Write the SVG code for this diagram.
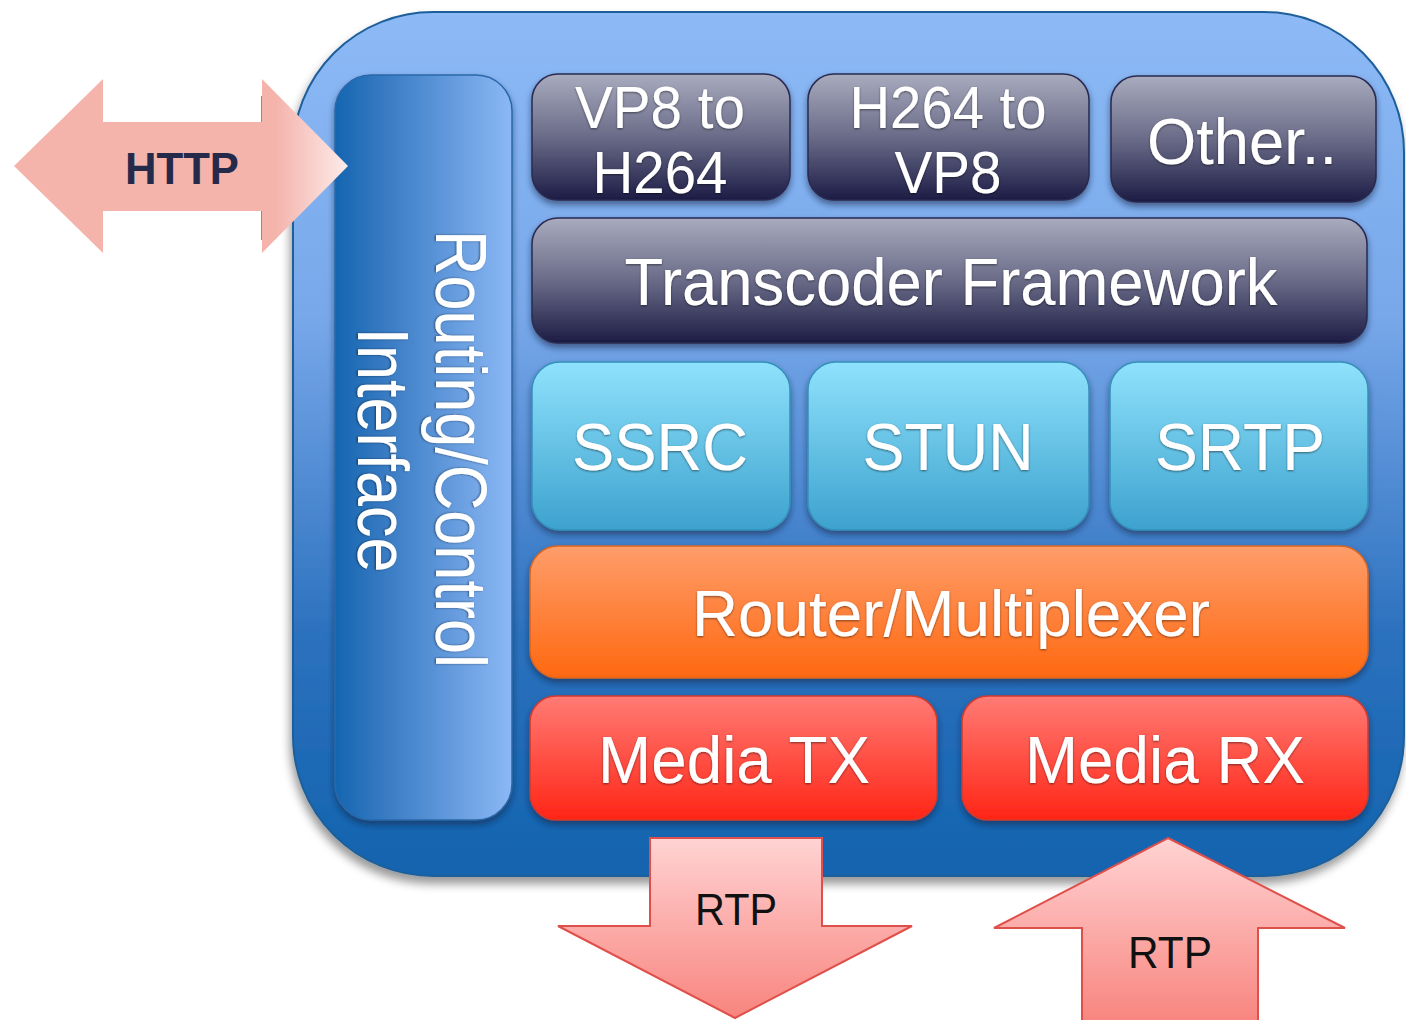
<svg xmlns="http://www.w3.org/2000/svg" width="1406" height="1020" viewBox="0 0 1406 1020">
  <defs>
    <linearGradient id="gContainer" x1="0" y1="0" x2="0" y2="1">
      <stop offset="0" stop-color="#8dbaf6"/>
      <stop offset="0.35" stop-color="#78a8ea"/>
      <stop offset="0.72" stop-color="#2c71be"/>
      <stop offset="1" stop-color="#1263ae"/>
    </linearGradient>
    <linearGradient id="gPanel" x1="0" y1="0" x2="1" y2="0">
      <stop offset="0" stop-color="#1565b0"/>
      <stop offset="0.3" stop-color="#3a7cc4"/>
      <stop offset="1" stop-color="#8cb8f5"/>
    </linearGradient>
    <linearGradient id="gDark" x1="0" y1="0" x2="0" y2="1">
      <stop offset="0" stop-color="#a9abbe"/>
      <stop offset="0.5" stop-color="#6a6b88"/>
      <stop offset="1" stop-color="#1c1c46"/>
    </linearGradient>
    <linearGradient id="gCyan" x1="0" y1="0" x2="0" y2="1">
      <stop offset="0" stop-color="#8fe2fc"/>
      <stop offset="1" stop-color="#3da2ce"/>
    </linearGradient>
    <linearGradient id="gOrange" x1="0" y1="0" x2="0" y2="1">
      <stop offset="0" stop-color="#fe9d6a"/>
      <stop offset="1" stop-color="#ff6810"/>
    </linearGradient>
    <linearGradient id="gRed" x1="0" y1="0" x2="0" y2="1">
      <stop offset="0" stop-color="#ff7b74"/>
      <stop offset="1" stop-color="#ff2516"/>
    </linearGradient>
    <linearGradient id="gHttp" x1="14" y1="0" x2="348" y2="0" gradientUnits="userSpaceOnUse">
      <stop offset="0" stop-color="#f4b3ab"/>
      <stop offset="0.78" stop-color="#f4b3ab"/>
      <stop offset="1" stop-color="#fdebe9"/>
    </linearGradient>
    <linearGradient id="gRtp" x1="0" y1="0" x2="0" y2="1">
      <stop offset="0" stop-color="#ffd3d3"/>
      <stop offset="1" stop-color="#f8847e"/>
    </linearGradient>
    <filter id="shadow" x="-10%" y="-10%" width="120%" height="130%">
      <feDropShadow dx="0" dy="4" stdDeviation="3" flood-color="#0a1a40" flood-opacity="0.55"/>
    </filter>
    <filter id="bigShadow" x="-10%" y="-10%" width="120%" height="125%">
      <feDropShadow dx="-2" dy="7" stdDeviation="5" flood-color="#000" flood-opacity="0.4"/>
    </filter>
    <filter id="txtShadow" x="-10%" y="-20%" width="120%" height="140%">
      <feDropShadow dx="0" dy="1" stdDeviation="1" flood-color="#000" flood-opacity="0.5"/>
    </filter>
    <style>
      .box { filter: url(#shadow); }
      .dark { fill: url(#gDark); stroke: #2a2a50; stroke-width: 1.5; }
      .cyan { fill: url(#gCyan); stroke: #3590bb; stroke-width: 1.5; }
      .orange { fill: url(#gOrange); stroke: #d9661e; stroke-width: 1.5; }
      .red { fill: url(#gRed); stroke: #d03a2e; stroke-width: 1.5; }
      .lbl { font-family: "Liberation Sans", Arial, sans-serif; fill: #ffffff; text-anchor: middle; filter: url(#txtShadow); }
      .rtp { font-family: "Liberation Sans", Arial, sans-serif; fill: #111111; text-anchor: middle; font-size: 44px; }
      .rtpArrow { fill: url(#gRtp); stroke: #e0504a; stroke-width: 2; stroke-linejoin: miter; }
    </style>
  </defs>

  <rect width="1406" height="1020" fill="#ffffff"/>

  <!-- outer container -->
  <g id="container">
    <rect x="293" y="12" width="1111" height="864" rx="140" ry="140" fill="url(#gContainer)" stroke="#1f5f9a" stroke-width="2" filter="url(#bigShadow)"/>
  </g>

  <!-- vertical control panel -->
  <g id="routing-control">
    <rect x="335" y="75" width="177" height="745" rx="36" ry="36" fill="url(#gPanel)" stroke="#2a68a8" stroke-width="1.5" filter="url(#shadow)"/>
    <text class="lbl" font-size="72" textLength="438" lengthAdjust="spacingAndGlyphs" transform="translate(436,449) rotate(90)">Routing/Control</text>
    <text class="lbl" font-size="72" textLength="245" lengthAdjust="spacingAndGlyphs" transform="translate(358,450) rotate(90)">Interface</text>
  </g>

  <g id="vp8-to-h264" class="box">
    <rect class="dark" x="532" y="74" width="258" height="126" rx="26"/>
    <text class="lbl" x="660" y="128" font-size="60" textLength="170" lengthAdjust="spacingAndGlyphs">VP8 to</text>
    <text class="lbl" x="660" y="193" font-size="60" textLength="135" lengthAdjust="spacingAndGlyphs">H264</text>
  </g>

  <g id="h264-to-vp8" class="box">
    <rect class="dark" x="808" y="74" width="281" height="126" rx="26"/>
    <text class="lbl" x="948" y="128" font-size="60" textLength="197" lengthAdjust="spacingAndGlyphs">H264 to</text>
    <text class="lbl" x="948" y="193" font-size="60" textLength="107" lengthAdjust="spacingAndGlyphs">VP8</text>
  </g>

  <g id="other" class="box">
    <rect class="dark" x="1111" y="76" width="265" height="126" rx="26"/>
    <text class="lbl" x="1242" y="164" font-size="65" textLength="190" lengthAdjust="spacingAndGlyphs">Other..</text>
  </g>

  <g id="transcoder-framework" class="box">
    <rect class="dark" x="532" y="218" width="835" height="125" rx="26"/>
    <text class="lbl" x="951" y="305" font-size="66" textLength="653" lengthAdjust="spacingAndGlyphs">Transcoder Framework</text>
  </g>

  <g id="ssrc" class="box">
    <rect class="cyan" x="532" y="362" width="258" height="168" rx="28"/>
    <text class="lbl" x="660" y="470" font-size="66" textLength="176" lengthAdjust="spacingAndGlyphs">SSRC</text>
  </g>

  <g id="stun" class="box">
    <rect class="cyan" x="808" y="362" width="281" height="168" rx="28"/>
    <text class="lbl" x="948" y="470" font-size="66" textLength="171" lengthAdjust="spacingAndGlyphs">STUN</text>
  </g>

  <g id="srtp" class="box">
    <rect class="cyan" x="1110" y="362" width="258" height="168" rx="28"/>
    <text class="lbl" x="1240" y="470" font-size="66" textLength="170" lengthAdjust="spacingAndGlyphs">SRTP</text>
  </g>

  <g id="router-multiplexer" class="box">
    <rect class="orange" x="530" y="546" width="838" height="132" rx="28"/>
    <text class="lbl" x="951" y="636" font-size="64" textLength="518" lengthAdjust="spacingAndGlyphs">Router/Multiplexer</text>
  </g>

  <g id="media-tx" class="box">
    <rect class="red" x="530" y="696" width="407" height="124" rx="26"/>
    <text class="lbl" x="734" y="783" font-size="66" textLength="272" lengthAdjust="spacingAndGlyphs">Media TX</text>
  </g>

  <g id="media-rx" class="box">
    <rect class="red" x="962" y="696" width="406" height="124" rx="26"/>
    <text class="lbl" x="1165" y="783" font-size="66" textLength="280" lengthAdjust="spacingAndGlyphs">Media RX</text>
  </g>

  <!-- protocol arrows -->
  <g id="connectors">
    <g id="http-arrow">
      <line x1="262" y1="96" x2="262" y2="122" stroke="#e06a5e" stroke-width="2"/>
      <line x1="262" y1="211" x2="262" y2="240" stroke="#e06a5e" stroke-width="2"/>
      <polygon points="14,166 103,79 103,122 262,122 262,79 348,166 262,253 262,211 103,211 103,253" fill="url(#gHttp)"/>
      <text x="182" y="184" font-family="'Liberation Sans', Arial, sans-serif" font-weight="bold" font-size="44" fill="#262a4a" text-anchor="middle" textLength="114" lengthAdjust="spacingAndGlyphs">HTTP</text>
    </g>
    <g id="rtp-out">
      <polygon class="rtpArrow" points="650,838 822,838 822,926 912,926 735,1018 558,926 650,926"/>
      <text class="rtp" x="736" y="925" textLength="82" lengthAdjust="spacingAndGlyphs">RTP</text>
    </g>
    <g id="rtp-in">
      <polygon class="rtpArrow" points="1168,838 1345,928 1258,928 1258,1024 1082,1024 1082,928 994,928"/>
      <text class="rtp" x="1170" y="968" textLength="84" lengthAdjust="spacingAndGlyphs">RTP</text>
    </g>
  </g>
</svg>
